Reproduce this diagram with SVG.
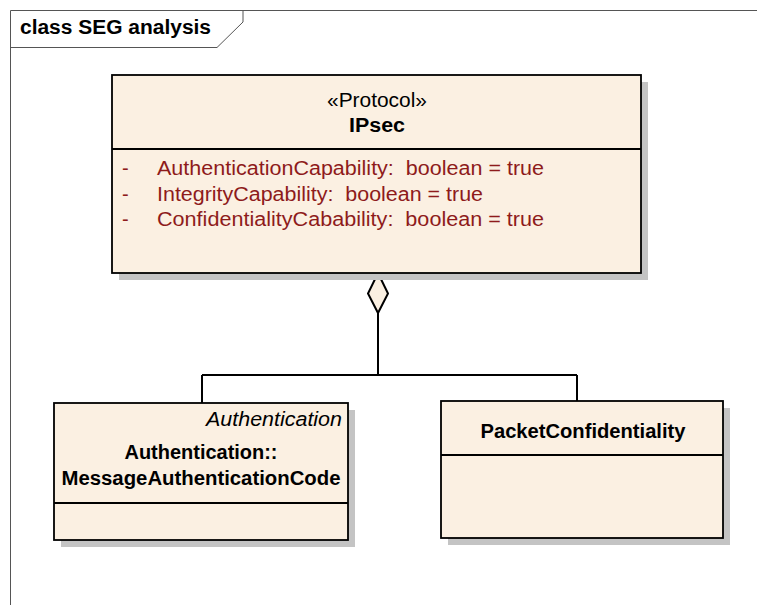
<svg xmlns="http://www.w3.org/2000/svg" width="757" height="605" viewBox="0 0 757 605">
<style>
  text { font-family: "Liberation Sans", Arial, sans-serif; font-size: 20px; fill: #000; }
  .b { font-weight: bold; }
  .it { font-style: italic; }
  .attr { fill: #8E1B1B; white-space: pre; }
  .box { fill: #FBF0E2; stroke: #000; stroke-width: 1.8; }
  .shadow { fill: #C4C4C4; }
  .sep { stroke: #000; stroke-width: 1.8; }
  .frame { fill: none; stroke: #555; stroke-width: 1; }
  .conn { fill: none; stroke: #000; stroke-width: 2; }
</style>
<rect width="757" height="605" fill="#fff"/>
<g id="frame">
  <path class="frame" d="M10.5,605 V10.5 H757"/>
  <path class="frame" d="M10.5,47.5 H217 L243,22 V10.5"/>
  <text class="b" x="20" y="34" textLength="191" lengthAdjust="spacingAndGlyphs">class SEG analysis</text>
</g>
<g id="connectors">
  <path class="conn" d="M378,313 V375 M202,375 H577 M202,375 V403 M577,375 V401"/>
  <path d="M378,273 L388,293.5 L378,313 L368,293.5 Z" fill="#FBF0E2" stroke="#000" stroke-width="2"/>
</g>
<g id="IPsec">
  <rect class="shadow" x="119" y="82" width="529" height="198"/>
  <rect class="box" x="112" y="75" width="529" height="198"/>
  <line class="sep" x1="112" y1="149" x2="641" y2="149"/>
  <text x="377" y="107" text-anchor="middle" textLength="100" lengthAdjust="spacingAndGlyphs">«Protocol»</text>
  <text class="b" x="377" y="132" text-anchor="middle" textLength="56" lengthAdjust="spacingAndGlyphs">IPsec</text>
  <text class="attr" x="122" y="175">-</text>
  <text class="attr" xml:space="preserve" x="157" y="175" textLength="387" lengthAdjust="spacingAndGlyphs">AuthenticationCapability:  boolean = true</text>
  <text class="attr" x="122" y="201">-</text>
  <text class="attr" xml:space="preserve" x="157" y="201" textLength="326" lengthAdjust="spacingAndGlyphs">IntegrityCapability:  boolean = true</text>
  <text class="attr" x="122" y="226">-</text>
  <text class="attr" xml:space="preserve" x="157" y="226" textLength="387" lengthAdjust="spacingAndGlyphs">ConfidentialityCabability:  boolean = true</text>
</g>
<g id="MessageAuthenticationCode">
  <rect class="shadow" x="61" y="410" width="294" height="137"/>
  <rect class="box" x="54" y="403" width="294" height="137"/>
  <line class="sep" x1="54" y1="503" x2="348" y2="503"/>
  <text class="it" x="342" y="426" text-anchor="end" textLength="136" lengthAdjust="spacingAndGlyphs">Authentication</text>
  <text class="b" x="201" y="459" text-anchor="middle" textLength="153" lengthAdjust="spacingAndGlyphs">Authentication::</text>
  <text class="b" x="201" y="485" text-anchor="middle" textLength="279" lengthAdjust="spacingAndGlyphs">MessageAuthenticationCode</text>
</g>
<g id="PacketConfidentiality">
  <rect class="shadow" x="448" y="408" width="282" height="137"/>
  <rect class="box" x="441" y="401" width="282" height="137"/>
  <line class="sep" x1="441" y1="455" x2="723" y2="455"/>
  <text class="b" x="583" y="438" text-anchor="middle" textLength="205" lengthAdjust="spacingAndGlyphs">PacketConfidentiality</text>
</g>
</svg>
